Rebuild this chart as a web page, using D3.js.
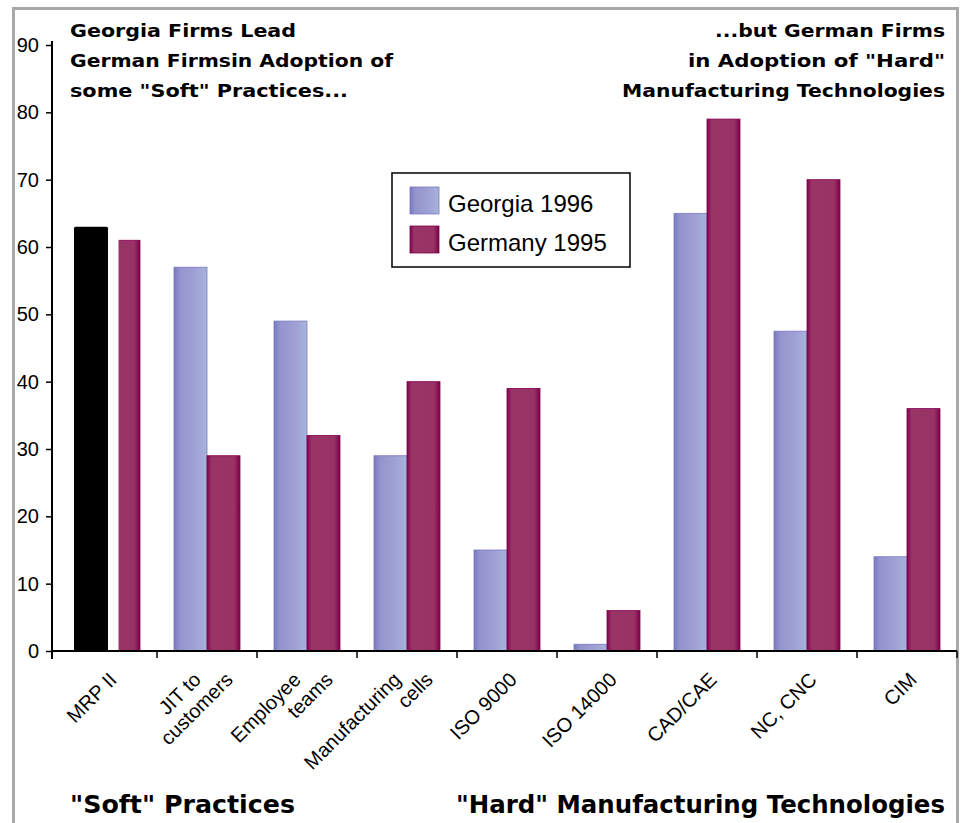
<!DOCTYPE html>
<html>
<head>
<meta charset="utf-8">
<script src="https://cdn.jsdelivr.net/npm/d3@7"></script>
<style>
  html, body { margin: 0; padding: 0; background: #fff; }
  svg { display: block; }
</style>
</head>
<body>
<svg id="chart" width="962" height="823"></svg>
<script>
// ---- data ----
const categories = ["MRP II", "JIT to\ncustomers", "Employee\nteams", "Manufacturing\ncells", "ISO 9000", "ISO 14000", "CAD/CAE", "NC, CNC", "CIM"];
const seriesNames = ["Georgia 1996", "Germany 1995"];
const georgia = [63, 57, 49, 29, 15, 1, 65, 47.5, 14];
const germany = [61, 29, 32, 40, 39, 6, 79, 70, 36];
const yTicks = [0, 10, 20, 30, 40, 50, 60, 70, 80, 90];
const highlightCategory = "MRP II";
const titleLeft = ["Georgia Firms Lead", "German Firmsin Adoption of", "some \"Soft\" Practices..."];
const titleRight = ["...but German Firms", "in Adoption of \"Hard\"", "Manufacturing Technologies"];
const footerLeft = "\"Soft\" Practices";
const footerRight = "\"Hard\" Manufacturing Technologies";

// ---- layout ----
const svg = d3.select("#chart");
const plot = { left: 52, bandStart: 57, right: 957, top: 45, bottom: 651 };

const x = d3.scaleBand().domain(categories).range([plot.bandStart, plot.right]).paddingInner(0).paddingOuter(0);
const sub = d3.scaleBand().domain(seriesNames).range([x.bandwidth() * 0.17, x.bandwidth() * 0.83]);
const y = d3.scaleLinear().domain([0, 90]).range([plot.bottom, plot.top]);

const rows = categories.map((c, i) => ({ cat: c, values: [georgia[i], germany[i]] }));

// gradients
const defs = svg.append("defs");
const gGeo = defs.append("linearGradient").attr("id", "gGeo").attr("x1", "0").attr("x2", "1").attr("y1", "0").attr("y2", "0");
[["0%", "#7878c3"], ["18%", "#9494ce"], ["60%", "#9e9fd3"], ["100%", "#a6b4dc"]].forEach(s => gGeo.append("stop").attr("offset", s[0]).attr("stop-color", s[1]));
const gGer = defs.append("linearGradient").attr("id", "gGer").attr("x1", "0").attr("x2", "1").attr("y1", "0").attr("y2", "0");
[["0%", "#86004e"], ["14%", "#983466"], ["82%", "#993366"], ["100%", "#7c0049"]].forEach(s => gGer.append("stop").attr("offset", s[0]).attr("stop-color", s[1]));

// background & frame
svg.append("rect").attr("x", 0).attr("y", 0).attr("width", 962).attr("height", 823).attr("fill", "#fff");
svg.append("rect").attr("x", 13.5).attr("y", 8.5).attr("width", 944).attr("height", 840)
  .attr("fill", "none").attr("stroke", "#a8a8a8").attr("stroke-width", 3);

// bars
const fills = ["url(#gGeo)", "url(#gGer)"];
const strokes = ["#7a7ac2", "#840050"];
const groups = svg.append("g").selectAll("g").data(rows).join("g")
  .attr("transform", d => `translate(${x(d.cat)},0)`);

groups.selectAll("rect.bar").data(d => d.values.map((v, j) => ({ cat: d.cat, v, j })))
  .join("rect")
  .attr("class", "bar")
  .attr("x", d => sub(seriesNames[d.j]))
  .attr("width", sub.bandwidth())
  .attr("y", d => y(d.v))
  .attr("height", d => y(0) - y(d.v))
  .attr("fill", d => fills[d.j])
  .attr("stroke", d => strokes[d.j])
  .attr("stroke-width", 0.8);

// highlighted (black) bar with white halo
groups.filter(d => d.cat === highlightCategory).append("rect")
  .attr("x", d => sub(seriesNames[0]))
  .attr("width", sub.bandwidth() + 1)
  .attr("y", d => y(d.values[0]))
  .attr("height", d => y(0) - y(d.values[0]))
  .attr("rx", 1.5)
  .attr("fill", "#000")
  .attr("stroke", "#fff")
  .attr("stroke-width", 21)
  .attr("paint-order", "stroke");

// y axis
const yAxis = svg.append("g").attr("transform", `translate(${plot.left},0)`)
  .call(d3.axisLeft(y).tickValues(yTicks).tickSize(6).tickPadding(6).tickFormat(d3.format("d")));
yAxis.select(".domain").attr("stroke", "#000").attr("stroke-width", 2).attr("d", `M0,${plot.bottom + 8}V${y(90) - 4}`);
yAxis.selectAll(".tick line").attr("stroke", "#000").attr("stroke-width", 1.5);
yAxis.selectAll(".tick text").attr("font-family", "Liberation Sans, Arial, sans-serif").attr("font-size", 20).attr("fill", "#000").attr("x", -13);

// x axis
const boundaries = categories.slice(1).map(c => x(c)).concat([plot.right]);
const xAxis = svg.append("g");
xAxis.append("line").attr("x1", plot.left).attr("x2", plot.right).attr("y1", y(0)).attr("y2", y(0))
  .attr("stroke", "#000").attr("stroke-width", 2);
xAxis.selectAll("line.tk").data(boundaries).join("line").attr("class", "tk")
  .attr("x1", d => d).attr("x2", d => d).attr("y1", y(0)).attr("y2", y(0) + 7)
  .attr("stroke", "#000").attr("stroke-width", 1.5);

// x labels (rotated, multi-line)
const labelY = y(0) + 30;
const lab = svg.append("g").attr("font-family", "Liberation Sans, Arial, sans-serif").attr("font-size", 20).attr("fill", "#000");
categories.forEach(c => {
  const lines = c.split("\n");
  const n = lines.length;
  const cx = x(c) + x.bandwidth() / 2;
  lines.forEach((ln, k) => {
    const lx = cx + 11 + (k - (n - 1) / 2) * 32;
    lab.append("text")
      .attr("text-anchor", "end")
      .attr("transform", `translate(${lx},${labelY}) rotate(-45)`)
      .text(ln);
  });
});

// legend
const leg = svg.append("g").attr("transform", "translate(392,173)");
leg.append("rect").attr("x", 0).attr("y", 0).attr("width", 238).attr("height", 94)
  .attr("fill", "#fff").attr("stroke", "#000").attr("stroke-width", 1.5);
seriesNames.forEach((s, j) => {
  leg.append("rect").attr("x", 18).attr("y", 14 + j * 39).attr("width", 29).attr("height", 27)
    .attr("fill", fills[j]).attr("stroke", strokes[j]).attr("stroke-width", 0.8);
  leg.append("text").attr("x", 56).attr("y", 39 + j * 39)
    .attr("font-family", "Liberation Sans, Arial, sans-serif").attr("font-size", 24).attr("fill", "#000")
    .text(s);
});

// titles
const tf = "DejaVu Sans, Verdana, sans-serif";
const leftWidths = [226, 323, 278];
titleLeft.forEach((t, i) => {
  svg.append("text").attr("x", 70).attr("y", 37 + i * 30)
    .attr("font-family", tf).attr("font-weight", "bold").attr("font-size", 18)
    .attr("textLength", leftWidths[i]).attr("lengthAdjust", "spacingAndGlyphs")
    .attr("fill", "#000").text(t);
});
const rightWidths = [230, 257, 323];
titleRight.forEach((t, i) => {
  svg.append("text").attr("x", 945 - rightWidths[i]).attr("y", 37 + i * 30)
    .attr("font-family", tf).attr("font-weight", "bold").attr("font-size", 18)
    .attr("textLength", rightWidths[i]).attr("lengthAdjust", "spacingAndGlyphs")
    .attr("fill", "#000").text(t);
});

// footers
svg.append("text").attr("x", 70).attr("y", 813)
  .attr("font-family", tf).attr("font-weight", "bold").attr("font-size", 24)
  .attr("textLength", 225).attr("lengthAdjust", "spacingAndGlyphs").attr("fill", "#000").text(footerLeft);
svg.append("text").attr("x", 456).attr("y", 813)
  .attr("font-family", tf).attr("font-weight", "bold").attr("font-size", 24)
  .attr("textLength", 489).attr("lengthAdjust", "spacingAndGlyphs").attr("fill", "#000").text(footerRight);
</script>
</body>
</html>
